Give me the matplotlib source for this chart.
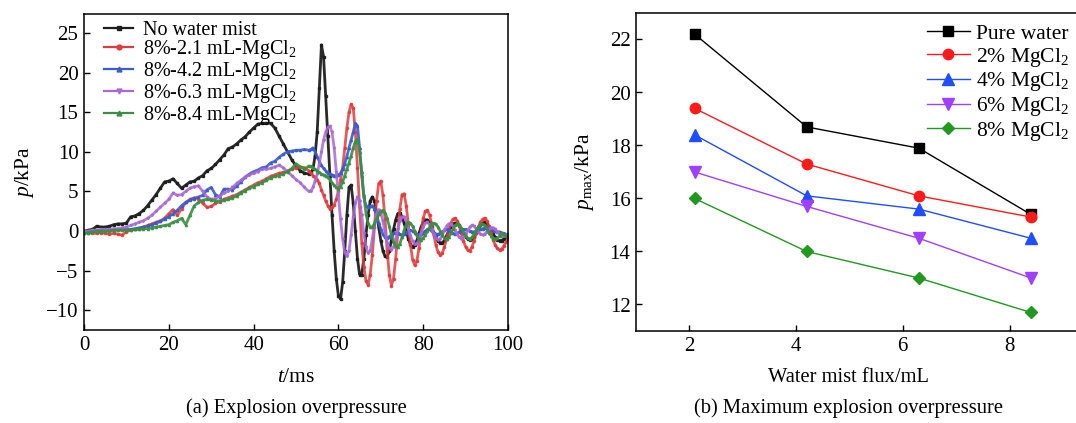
import numpy as np
import matplotlib
matplotlib.use("Agg")
import matplotlib.pyplot as plt
from matplotlib.lines import Line2D

plt.rcParams['font.family'] = ['Liberation Serif', 'DejaVu Serif']
plt.rcParams['mathtext.fontset'] = 'custom'
plt.rcParams['mathtext.rm'] = 'Liberation Serif'
plt.rcParams['mathtext.it'] = 'Liberation Serif:italic'

# ---------------- (a) time series data ----------------
t_ms = [0, 1, 2, 3, 4, 5, 6, 7, 8, 9,
        10, 11, 12, 13, 14, 15, 16, 17, 18, 19,
        20, 21, 22, 23, 24, 25, 26, 27, 28, 29,
        30, 31, 32, 33, 34, 35, 36, 37, 38, 39,
        40, 41, 42, 43, 44, 45, 46, 47, 48, 49,
        50, 51, 52, 53,
        53.5, 54, 54.5, 55, 55.5, 56, 56.5, 57, 57.5, 58,
        58.5, 59, 59.5, 60, 60.5, 61, 61.5, 62, 62.5, 63,
        63.5, 64, 64.5, 65, 65.5, 66, 66.5, 67, 67.5, 68,
        68.5, 69, 69.5, 70, 70.5, 71, 71.5, 72, 72.5, 73,
        73.5, 74, 74.5, 75, 75.5, 76, 76.5, 77, 77.5, 78,
        78.5, 79, 79.5, 80, 80.5, 81, 81.5, 82, 82.5, 83,
        83.5, 84, 84.5, 85, 85.5, 86, 86.5, 87, 87.5, 88,
        88.5, 89, 89.5, 90, 90.5, 91, 91.5, 92, 92.5, 93,
        93.5, 94, 94.5, 95, 95.5, 96, 96.5, 97, 97.5, 98,
        98.5, 99, 99.5, 100]

p_no_mist = [0, 0.1, 0.2, 0.6, 0.5, 0.5, 0.6, 0.8, 0.9, 0.9,
             1.0, 1.8, 1.9, 2.2, 2.6, 3.2, 3.9, 4.6, 5.4, 6.2,
             6.3, 6.6, 6.0, 5.4, 5.8, 6.2, 6.3, 6.7, 7.0, 7.6,
             7.9, 8.4, 9.0, 9.6, 10.4, 10.6, 11.0, 11.5, 11.9, 12.5,
             13.0, 13.5, 13.6, 13.6, 13.6, 13.0, 12.0, 11.0, 10.0, 9.0,
             8.2, 7.6, 7.3, 7.2,
             7.4, 7.8, 9.5, 12.5, 18.0, 23.5, 22.0, 17.0, 12.0, 7.0,
             2.0, -2.5, -6.0, -8.2, -8.6, -6.5, -2.5, 2.0, 5.5, 5.8,
             3.5, 0.0, -3.5, -5.5, -5.5, -3.5, -0.5, 2.0, 3.8, 4.3,
             3.8, 2.3, 0.5, -1.2, -2.5, -3.2, -3.3, -2.5, -1.2, 0.2,
             1.4, 2.2, 2.3, 1.8, 1.0, 0.0, -1.0, -1.7, -2.0, -1.8,
             -1.2, -0.3, 0.5, 1.1, 1.4, 1.4, 1.1, 0.5, -0.2, -0.8,
             -1.3, -1.5, -1.5, -1.2, -0.6, 0.0, 0.5, 0.9, 1.0, 1.0,
             0.7, 0.2, -0.3, -0.7, -1.0, -1.1, -1.0, -0.7, -0.2, 0.3,
             0.7, 1.0, 1.1, 0.9, 0.5, 0.0, -0.4, -0.8, -1.1, -1.2,
             -1.2, -1.0, -0.8, -0.8]

p_21mL = [-0.2, -0.2, -0.3, -0.3, -0.2, -0.3, -0.4, -0.3, -0.4, -0.5,
          -0.1, 0.1, 0.2, 0.3, 0.5, 0.7, 0.9, 1.1, 1.3, 1.6,
          2.2, 2.7, 2.0, 2.8, 3.6, 4.0, 4.2, 4.1, 3.5, 3.0,
          3.1, 3.5, 3.7, 4.0, 4.2, 4.4, 4.6, 4.9, 5.2, 5.5,
          5.8, 6.1, 6.3, 6.6, 6.9, 7.1, 7.3, 7.4, 7.6, 7.8,
          8.0, 8.1, 8.0, 7.6,
          7.3, 7.0, 6.8, 6.5, 6.0, 5.2, 4.5, 3.8, 3.2, 2.8,
          3.0, 3.3, 4.0, 5.0, 6.5, 8.0, 10.5, 13.0, 15.0, 16.0,
          15.5, 12.5, 8.0, 3.0, -1.5, -4.5, -6.3, -6.8, -5.5, -3.0,
          0.5, 3.8, 6.0, 6.3, 4.5, 1.5, -2.5, -5.5, -6.9, -6.0,
          -3.5, -0.3, 2.8, 4.6, 4.7, 3.2, 0.8, -1.8, -3.6, -4.3,
          -3.8, -2.2, -0.2, 1.6, 2.5, 2.6, 2.0, 0.9, -0.5, -1.8,
          -2.7, -3.0, -2.8, -2.0, -1.0, 0.1, 1.0, 1.5, 1.6, 1.3,
          0.6, -0.3, -1.2, -2.0, -2.4, -2.5, -2.0, -1.2, -0.3, 0.5,
          1.1, 1.5, 1.6, 1.3, 0.6, -0.3, -1.1, -1.8, -2.2, -2.4,
          -2.3, -1.9, -1.4, -1.0]

p_42mL = [-0.2, -0.1, 0.0, 0.0, 0.0, 0.1, 0.1, 0.1, 0.2, 0.2,
          0.2, 0.2, 0.3, 0.4, 0.5, 0.6, 0.8, 1.0, 1.2, 1.5,
          1.8, 2.2, 2.6, 3.2, 3.6, 3.9, 4.1, 4.3, 4.5, 5.2,
          5.5, 4.6, 4.3, 5.3, 5.3, 5.2, 5.7, 6.2, 6.8, 7.2,
          7.5, 7.7, 8.0, 8.1, 8.6, 8.8, 9.3, 9.7, 10.0, 10.1,
          10.2, 10.2, 10.3, 10.2,
          10.3, 10.5, 10.0, 9.4, 8.8, 8.3, 7.9, 7.6, 7.3, 7.2,
          7.1, 7.0, 7.0, 7.1, 7.3, 7.8, 8.5, 9.4, 10.5, 11.5,
          12.5, 13.6, 13.3, 10.5, 7.0, 4.3, 3.2, 3.0, 3.1, 3.2,
          2.8, 2.0, 1.0, 0.2, -0.4, -0.8, -0.9, -0.7, -0.5, -0.3,
          -0.2, -0.3, -0.4, -0.5, -0.4, -0.2, 0.0, 0.1, 0.0, -0.2,
          -0.4, -0.5, -0.4, -0.2, 0.0, 0.2, 0.2, 0.0, -0.2, -0.4,
          -0.4, -0.3, -0.1, 0.1, 0.2, 0.1, -0.1, -0.3, -0.4, -0.3,
          -0.1, 0.1, 0.2, 0.2, 0.1, 0.0, -0.1, -0.1, 0.0, 0.1,
          0.2, 0.3, 0.4, 0.5, 0.4, 0.2, 0.1, 0.0, -0.1, -0.1,
          -0.2, -0.3, -0.4, -0.5]

p_63mL = [0.0, 0.0, 0.1, 0.1, 0.2, 0.2, 0.2, 0.3, 0.3, 0.4,
          0.5, 0.7, 0.9, 1.1, 1.3, 1.6, 2.0, 2.5, 3.0, 3.5,
          4.0, 4.8, 4.5, 4.6, 5.0, 5.4, 5.6, 5.7, 5.0, 4.3,
          4.0, 4.1, 4.4, 4.8, 5.0, 5.5, 6.0, 6.4, 6.8, 7.1,
          7.3, 7.5, 7.8, 7.8, 7.9, 8.1, 8.3, 8.0, 7.5, 7.0,
          6.5, 6.1, 5.5, 5.0,
          5.0, 5.5, 6.3, 7.2, 8.5, 10.0, 11.5, 12.5, 13.1, 13.2,
          12.5, 10.5, 7.5, 4.5, 1.5, -1.0, -2.7, -3.2, -2.5, -0.5,
          1.8, 3.5, 4.3, 3.8, 2.0, -0.3, -2.0, -2.8, -2.5, -1.0,
          0.8, 2.2, 2.7, 2.3, 1.2, -0.2, -1.5, -2.2, -2.4, -2.0,
          -1.0, 0.2, 1.2, 1.8, 1.8, 1.2, 0.3, -0.6, -1.3, -1.7,
          -1.6, -1.1, -0.3, 0.5, 1.0, 1.1, 0.8, 0.2, -0.4, -0.9,
          -1.1, -1.0, -0.5, 0.1, 0.6, 0.9, 0.9, 0.6, 0.1, -0.4,
          -0.8, -1.0, -0.8, -0.4, 0.1, 0.5, 0.7, 0.6, 0.3, -0.1,
          -0.4, -0.5, -0.4, -0.1, 0.2, 0.4, 0.4, 0.2, -0.1, -0.4,
          -0.6, -0.6, -0.5, -0.4]

p_84mL = [-0.3, -0.2, -0.1, 0.0, 0.0, 0.0, 0.0, 0.1, 0.1, 0.1,
          0.1, 0.1, 0.2, 0.2, 0.3, 0.3, 0.4, 0.5, 0.6, 0.7,
          0.8, 1.1, 1.3, 1.6, 0.8, 2.0, 3.2, 3.6, 3.9, 4.0,
          3.9, 3.8, 3.8, 3.9, 4.0, 4.2, 4.4, 4.8, 5.1, 5.4,
          5.6, 5.9, 6.1, 6.4, 6.7, 6.9, 7.0, 7.2, 7.5, 7.9,
          8.5, 8.1, 7.8, 8.2,
          8.2, 8.0, 7.8, 7.6, 7.4, 7.2, 7.1, 7.0, 6.8, 6.5,
          6.1, 5.8, 5.5, 5.3, 5.6, 6.2, 7.0, 7.8, 8.6, 9.5,
          10.5, 11.3, 11.6, 10.0, 7.5, 4.5, 2.2, 1.0, 0.5, 0.5,
          0.9, 1.5, 2.1, 2.5, 2.6, 2.3, 1.6, 0.6, -0.5, -1.4,
          -1.9, -2.0, -1.6, -0.8, 0.1, 0.8, 1.1, 1.0, 0.6, 0.0,
          -0.6, -1.0, -1.1, -0.9, -0.5, 0.0, 0.5, 0.9, 1.0, 0.9,
          0.5, 0.0, -0.5, -0.9, -1.0, -0.8, -0.3, 0.2, 0.7, 0.9,
          0.8, 0.4, -0.1, -0.6, -0.9, -1.0, -0.8, -0.4, 0.1, 0.5,
          0.8, 0.9, 0.7, 0.3, -0.2, -0.6, -0.9, -1.0, -0.9, -0.6,
          -0.3, -0.4, -0.6, -0.7]

labels_a = ['No water mist', '8%-2.1 mL-MgCl$_2$', '8%-4.2 mL-MgCl$_2$',
            '8%-6.3 mL-MgCl$_2$', '8%-8.4 mL-MgCl$_2$']

# ---------------- (b) maximum overpressure data ----------------
flux_mL = [2.1, 4.2, 6.3, 8.4]
pmax_pure = [22.2, 18.7, 17.9, 15.4]
pmax_2 = [19.4, 17.3, 16.1, 15.3]
pmax_4 = [18.4, 16.1, 15.6, 14.5]
pmax_6 = [17.0, 15.7, 14.5, 13.0]
pmax_8 = [16.0, 14.0, 13.0, 11.7]
labels_b = ['Pure water', '2% MgCl$_2$', '4% MgCl$_2$', '6% MgCl$_2$', '8% MgCl$_2$']

W, H = 1076, 423
fig = plt.figure(figsize=(W / 100, H / 100), dpi=100)

def px_axes(l, t, r, b):
    return fig.add_axes([l / W, 1 - b / H, (r - l) / W, (b - t) / H])

FS = 15

# ---------- panel (a) ----------
ax1 = px_axes(84, 14, 508, 330)
series_a = [p_no_mist, p_21mL, p_42mL, p_63mL, p_84mL]
cols_a = ['#1e1e1e', '#e03c3c', '#3a5ccc', '#a868d8', '#3a9040']
marks_a = ['s', 'o', '^', 'v', '^']
alphas = [0.95, 0.85, 0.9, 0.85, 0.9]
for i in range(5):
    ax1.plot(t_ms, series_a[i], color=cols_a[i], lw=2.0, alpha=alphas[i],
             marker=marks_a[i], ms=1.6, label=labels_a[i])
ax1.set_xlim(0, 100)
ax1.set_ylim(-12.5, 27.4)
ax1.set_xticks([0, 20, 40, 60, 80, 100])
ax1.set_yticks([-10, -5, 0, 5, 10, 15, 20, 25])
ax1.set_yticklabels(['\u221210', '\u22125', '0', '5', '10', '15', '20', '25'])
ax1.tick_params(direction='in', length=4, width=1, labelsize=FS, top=False, right=False, pad=4)
for s in ax1.spines.values():
    s.set_linewidth(1.1)
leg_handles = [Line2D([], [], color=cols_a[i], lw=1.6, marker=marks_a[i], ms=3.5) for i in range(5)]
ax1.legend(leg_handles, labels_a, loc='upper left', bbox_to_anchor=(0.014, 1.024), frameon=False,
           fontsize=14.5, handlelength=1.45, handletextpad=0.5, labelspacing=-0.06, borderpad=0.2)
fig.text(25 / W, 1 - 172 / H, '$p$/kPa', rotation=90, ha='center', va='center', fontsize=FS + 0.5)
fig.text(296 / W, 1 - 377 / H, '$t$/ms', ha='center', va='center', fontsize=FS + 0.5)
fig.text(296 / W, 1 - 408 / H, '(a) Explosion overpressure', ha='center', va='center', fontsize=14.8)

# ---------- panel (b) ----------
ax2 = px_axes(636, 13, 1081, 331)
series_b = [pmax_pure, pmax_2, pmax_4, pmax_6, pmax_8]
cols_b = ['#000000', '#ff1a1a', '#1f4dff', '#a040ff', '#1f9a1f']
marks_b = ['s', 'o', '^', 'v', 'D']
msz = [7, 7.5, 8, 8, 6.5]
for i in range(5):
    ax2.plot(flux_mL, series_b[i], color=cols_b[i], lw=1.0, marker=marks_b[i], ms=msz[i],
             label=labels_b[i])
ax2.set_xlim(1.0, 9.34)
ax2.set_ylim(11.0, 23.0)
ax2.set_xticks([2, 4, 6, 8])
ax2.set_yticks([12, 14, 16, 18, 20, 22])
ax2.tick_params(direction='in', length=4, width=1, labelsize=FS, top=False, right=False, pad=4)
for s in ax2.spines.values():
    s.set_linewidth(1.1)
ax2.legend(loc='upper right', bbox_to_anchor=(1.012, 1.02), frameon=False, fontsize=15.5,
           handlelength=2.0, handletextpad=0.3, labelspacing=0.08, borderpad=0.3)
fig.text(584 / W, 1 - 172 / H, r'$p_{\mathrm{max}}$/kPa', rotation=90, ha='center', va='center',
         fontsize=FS + 0.5)
fig.text(849 / W, 1 - 377 / H, 'Water mist flux/mL', ha='center', va='center', fontsize=14.8)
fig.text(848 / W, 1 - 408 / H, '(b) Maximum explosion overpressure', ha='center', va='center', fontsize=14.8)

fig.savefig('out.png', dpi=100)
